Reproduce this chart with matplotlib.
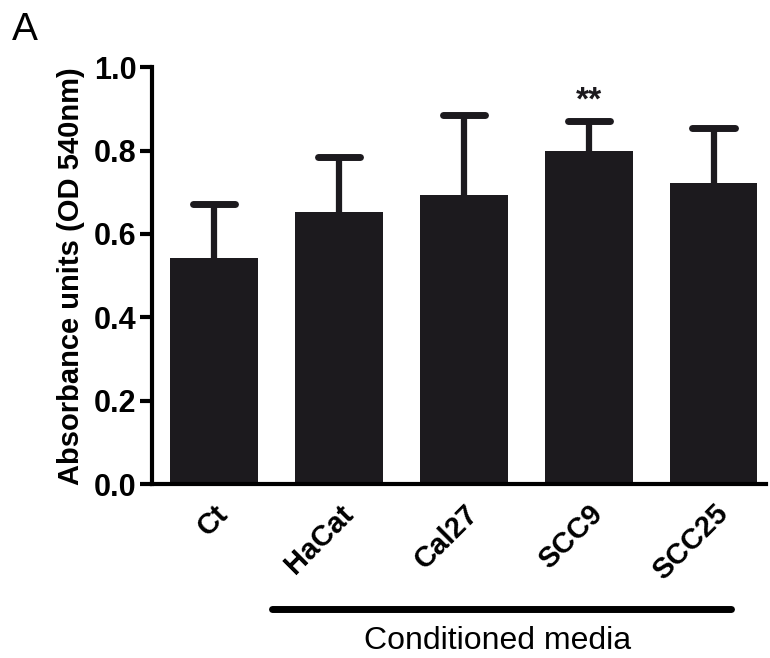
import matplotlib.pyplot as plt
import matplotlib.transforms as mtransforms
import numpy as np

# values
groups = ['Ct', 'HaCat', 'Cal27', 'SCC9', 'SCC25']
means = [0.542, 0.652, 0.693, 0.799, 0.722]
sems = [0.129, 0.132, 0.192, 0.071, 0.132]
marks = ['', '', '', '**', '']

plt.rcParams['font.family'] = ['Liberation Sans', 'DejaVu Sans']

fig = plt.figure(figsize=(7.7, 6.58), dpi=100)
ax = fig.add_axes([0.197, 0.264, 0.798, 0.634])

x = np.arange(len(groups))
bar_color = '#1c1a1e'
tops = np.array(means) + np.array(sems)
# upper error only: stem + cap
ax.vlines(x, means, tops, color=bar_color, lw=4.5, zorder=1)
ax.hlines(tops, x - 0.17, x + 0.17, color=bar_color, lw=5, zorder=1,
          capstyle='round')
ax.bar(x, means, width=0.70, color=bar_color, zorder=2)

for xi, top, t in zip(x, tops, marks):
    if t:
        ax.text(xi, top + 0.012, t, ha='center', va='bottom',
                fontsize=24, fontweight='bold', color=bar_color)

ax.set_xlim(-0.5, 4.42)
ax.set_ylim(0, 1.0)
ax.set_yticks([0.0, 0.2, 0.4, 0.6, 0.8, 1.0])
ax.set_yticklabels(['0.0', '0.2', '0.4', '0.6', '0.8', '1.0'],
                   fontsize=22, fontweight='bold')
ax.set_xticks(x)
ax.set_xticklabels(groups, rotation=45, ha='right', rotation_mode='anchor',
                   fontsize=21, fontweight='bold')
ax.tick_params(axis='x', length=0, pad=11)
ax.tick_params(axis='y', length=9, width=3, direction='out', pad=2)
shift = mtransforms.ScaledTranslation(0.0, 0, fig.dpi_scale_trans)
for lab in ax.get_xticklabels():
    lab.set_transform(lab.get_transform() + shift)

ax.spines['top'].set_visible(False)
ax.spines['right'].set_visible(False)
ax.spines['left'].set_linewidth(3)
ax.spines['bottom'].set_linewidth(3)

ax.set_ylabel('Absorbance units (OD 540nm)', fontsize=21, fontweight='bold',
              labelpad=6)

# bracket under conditioned media groups
trans = mtransforms.blended_transform_factory(ax.transData, ax.transAxes)
ax.plot([0.46, 4.14], [-0.30, -0.30], color='black', lw=5,
        solid_capstyle='round', transform=trans, clip_on=False)
ax.text(2.27, -0.375, 'Conditioned media', ha='center', va='center',
        fontsize=23, transform=trans)

fig.text(0.015, 0.955, 'A', fontsize=28, ha='left', va='center')

fig.savefig('out.png', dpi=100)
